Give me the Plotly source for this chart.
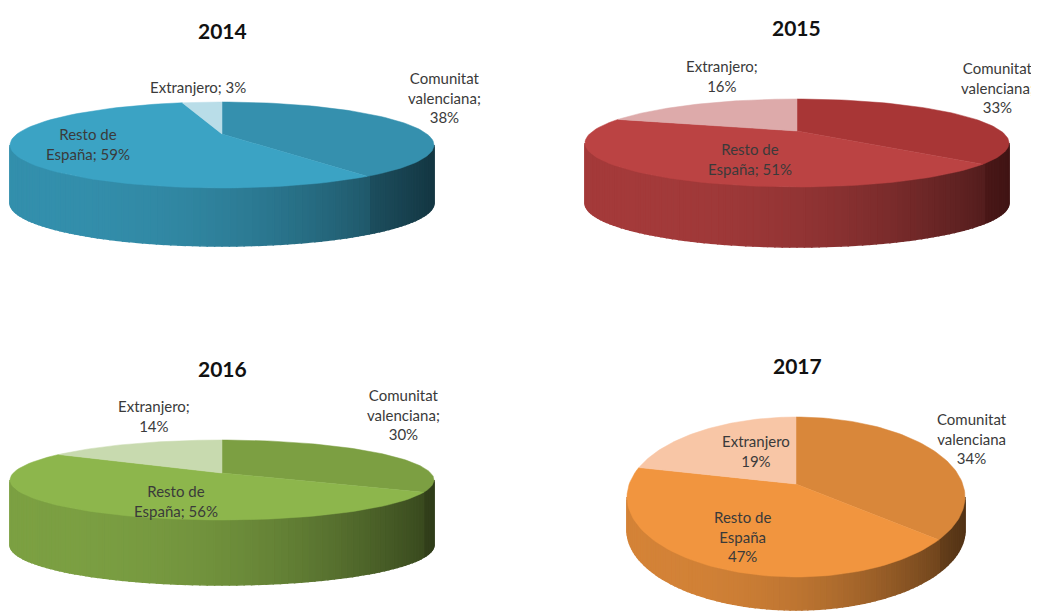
import numpy as np
import plotly.graph_objects as go

# ---------------- data ----------------
years = ["2014", "2015", "2016", "2017"]
categories = ["Comunitat valenciana", "Resto de España", "Extranjero"]
comunitat = [38, 33, 30, 34]
resto = [59, 51, 56, 47]
extranjero = [3, 16, 14, 19]

label_text = [
    ["Comunitat<br>valenciana;<br>38%", "Resto de<br>España; 59%", "Extranjero; 3%"],
    ["Comunitat<br>valenciana;<br>33%", "Resto de<br>España; 51%", "Extranjero;<br>16%"],
    ["Comunitat<br>valenciana;<br>30%", "Resto de<br>España; 56%", "Extranjero;<br>14%"],
    ["Comunitat<br>valenciana<br>34%", "Resto de<br>España<br>47%", "Extranjero<br>19%"],
]

# ---------------- layout / style ----------------
# pie geometry in page pixels: cx, cy, rx, ry, depth, apex lift (perspective)
geom = [
    (222, 145, 212, 43, 58, 11),
    (797, 143, 212, 44, 60, 12),
    (222, 480, 212, 40, 65, 7),
    (796, 497, 169, 80, 33, 13),
]
title_pos = [(222, 30), (796, 27), (222, 368), (797, 365)]
label_pos = [
    [(444, 97), (88, 144), (198, 87)],
    [(997, 87), (750, 159), (722, 76)],
    [(403, 414), (176, 501), (154, 416)],
    [(972, 438), (742, 536), (756, 451)],
]
top_colors = [
    ["#3590AE", "#3BA3C4", "#B9DDE8"],
    ["#A83636", "#BB4343", "#DDAAAA"],
    ["#7C9F42", "#8DB64C", "#C8DAAF"],
    ["#D9873A", "#F1953F", "#F8C6A6"],
]

FONT = "Lato, Open Sans, sans-serif"
OFF = 8  # page body margin of the html page


def hex2rgb(h):
    h = h.lstrip("#")
    return [int(h[i:i + 2], 16) for i in (0, 2, 4)]


def shade(h, f):
    r, g, b = hex2rgb(h)
    return "rgb(%d,%d,%d)" % (min(255, r * f), min(255, g * f), min(255, b * f))


fig = go.Figure()

for i, yr in enumerate(years):
    cx, cy, rx, ry, depth, lift = geom[i]
    vals = [comunitat[i], resto[i], extranjero[i]]
    tot = float(sum(vals))
    bounds = np.concatenate([[0], np.cumsum(vals) / tot * 360.0])

    def px(t):
        return cx + rx * np.sin(np.radians(t))

    def py(t):
        return cy - ry * np.cos(np.radians(t))

    # ---- side wall (front half: 90..270 deg clockwise from top) ----
    nseg = 90
    edges = np.linspace(90, 270, nseg + 1)
    for k in range(nseg):
        a0, a1 = edges[k], edges[k + 1]
        mid = 0.5 * (a0 + a1)
        s_idx = int(np.searchsorted(bounds, mid, side="right") - 1)
        s_idx = min(max(s_idx, 0), 2)
        s = np.sin(np.radians(mid))  # -1 left .. +1 right
        f = 0.88 - 0.5 * ((s + 1) / 2) ** 2.4
        col = shade(top_colors[i][s_idx], f)
        tt = np.linspace(a0, a1, 4)
        xs = list(px(tt)) + list(px(tt[::-1]))
        ys = list(py(tt)) + list(py(tt[::-1]) + depth)
        fig.add_trace(go.Scatter(
            x=xs + [xs[0]], y=ys + [ys[0]], mode="lines", fill="toself",
            fillcolor=col, line=dict(color=col, width=1.5),
            hoverinfo="skip", showlegend=False))

    # ---- top slices ----
    ax, ay = cx, cy - lift
    for j in range(3):
        tt = np.linspace(bounds[j], bounds[j + 1], 80)
        xs = [ax] + list(px(tt)) + [ax]
        ys = [ay] + list(py(tt)) + [ay]
        fig.add_trace(go.Scatter(
            x=xs, y=ys, mode="lines", fill="toself",
            fillcolor=top_colors[i][j], line=dict(color=top_colors[i][j], width=0.5),
            name=categories[j], text="%s: %d%%" % (categories[j], vals[j]),
            hoverinfo="text", showlegend=False))

    # ---- title ----
    fig.add_annotation(x=title_pos[i][0], y=title_pos[i][1], text="<b>%s</b>" % yr,
                       showarrow=False, font=dict(family=FONT, size=21, color="#111111"),
                       xref="x", yref="y")
    # ---- labels ----
    for j in range(3):
        fig.add_annotation(x=label_pos[i][j][0], y=label_pos[i][j][1], text=label_text[i][j],
                           showarrow=False, align="center",
                           font=dict(family=FONT, size=15, color="#3a3a3a"),
                           xref="x", yref="y")

fig.update_xaxes(range=[OFF, 1039], visible=False, fixedrange=True)
fig.update_yaxes(range=[613, OFF], visible=False, fixedrange=True)
fig.update_layout(
    width=1039 - OFF, height=613 - OFF,
    margin=dict(l=0, r=0, t=0, b=0),
    paper_bgcolor="white", plot_bgcolor="white",
    showlegend=False,
)

fig.write_html("out.html")
